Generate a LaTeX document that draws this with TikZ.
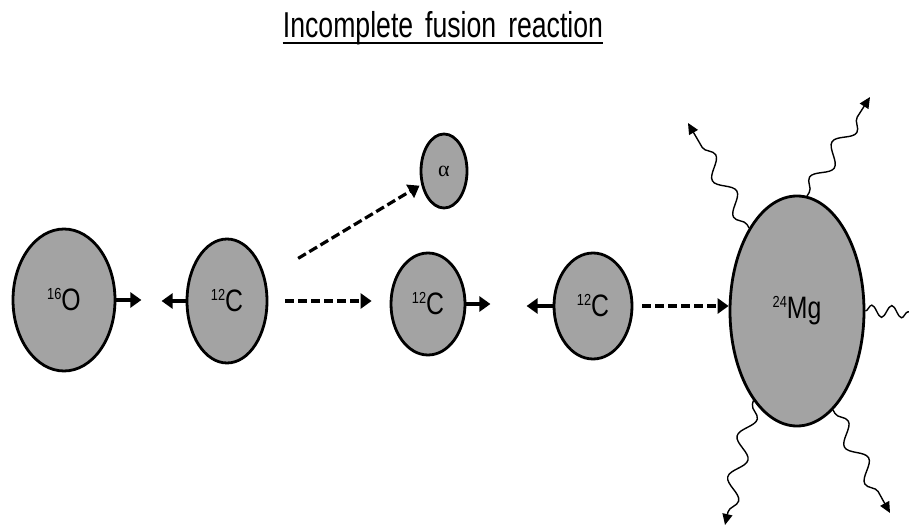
\documentclass[tikz,border=0pt]{standalone}
\usepackage{fontspec}
\setmainfont{Liberation Sans}
\newfontfamily\greekfont{Liberation Serif}
\usetikzlibrary{arrows.meta,shapes.geometric,decorations.pathmorphing}
\definecolor{nucleusgray}{HTML}{A3A3A3}

% narrow sans lettering and isotope labels
\newcommand{\narrow}[1]{\scalebox{0.8}[1]{#1}}
\newcommand{\iso}[2]{\narrow{\fontsize{16}{16}\selectfont\raisebox{11pt}{#1}\fontsize{31}{31}\selectfont #2}}

\tikzset{
  nucleus/.style={ellipse, draw, line width=2.8pt, fill=nucleusgray, inner sep=0pt},
  kick/.style={line width=3.2pt, -{Triangle[length=11pt,width=15pt]}},
  flight/.style={kick, dash pattern=on 9pt off 4pt},
  gamma/.style={line width=1.4pt, decorate,
    decoration={snake, amplitude=8pt, segment length=42pt, pre length=4pt, post length=10pt},
    -{Triangle[length=11pt,width=10pt]}}
}

\begin{document}
\begin{tikzpicture}[x=1pt,y=-1pt]
  \useasboundingbox (0,0) rectangle (909,526);

  % title
  \node[anchor=base, inner sep=0pt] (title) at (443,38)
    {\scalebox{0.74}[1]{\fontsize{36}{36}\selectfont Incomplete\hspace{.45em}fusion\hspace{.45em}reaction}};
  \draw[line width=2pt] ([yshift=-5pt]title.base west) -- ([yshift=-5pt]title.base east);

  % nuclei
  \node[nucleus, minimum width=102pt, minimum height=142pt] (O16) at (64,300) {\iso{16}{O}};
  \node[nucleus, minimum width=80pt, minimum height=124pt] (C1) at (227,301) {\iso{12}{C}};
  \node[nucleus, minimum width=46pt, minimum height=74pt] (alpha) at (444,171)
    {\greekfont\fontsize{22}{22}\selectfont α};
  \node[nucleus, minimum width=74pt, minimum height=102pt] (C2) at (428,304) {\iso{12}{C}};
  \node[nucleus, minimum width=78pt, minimum height=106pt] (C3) at (593,306) {\iso{12}{C}};
  \node[nucleus, minimum width=134pt, minimum height=230pt] (Mg) at (797,311) {\iso{24}{Mg}};

  % momentum kicks
  \draw[kick] (O16.east) -- ++(25,0);
  \draw[kick] (C1.west) -- ++(-24,0);
  \draw[kick] (C2.east) -- ++(24,0);
  \draw[kick] (C3.west) -- ++(-26,0);

  % transfers
  \draw[flight, shorten <=17pt, shorten >=18pt] (C1.east) -- (C2.west |- C1.east);
  \draw[flight, shorten <=38pt, shorten >=2pt] (C1) -- (alpha);
  \draw[flight, shorten <=9pt] (C3.east) -- (Mg.west |- C3.east);

  % gamma emission
  \coordinate (g1) at (688,123);
  \coordinate (g2) at (870,97);
  \coordinate (g3) at (912,312);
  \coordinate (g4) at (725,525);
  \coordinate (g5) at (890,513);
  \draw[gamma] (Mg.120) -- (g1);
  \draw[gamma] (Mg.85) -- (g2);
  \draw[gamma, -, decoration={snake, amplitude=6pt, segment length=20pt,
    pre length=0pt, post length=0pt}] (Mg.0) -- (g3);
  \draw[gamma] (Mg.-116) -- (g4);
  \draw[gamma] (Mg.-70) -- (g5);
\end{tikzpicture}
\end{document}
